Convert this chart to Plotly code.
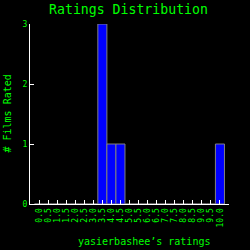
import plotly.graph_objects as go

ratings = [0.0, 0.5, 1.0, 1.5, 2.0, 2.5, 3.0, 3.5, 4.0, 4.5, 5.0,
           5.5, 6.0, 6.5, 7.0, 7.5, 8.0, 8.5, 9.0, 9.5, 10.0]
counts = [0, 0, 0, 0, 0, 0, 0, 3, 1, 1, 0,
          0, 0, 0, 0, 0, 0, 0, 0, 0, 1]
tick_labels = ["%.1f" % r for r in ratings]
y_ticks = [0, 1, 2, 3]

GREEN = "#00ff00"
FONT = "DejaVu Sans Mono"

fig = go.Figure(go.Bar(
    x=ratings, y=counts, width=0.5,
    marker=dict(color="#0000ff", line=dict(color="#808080", width=1)),
))

fig.update_layout(
    width=250, height=250,
    margin=dict(l=30, r=21, t=24, b=46),
    paper_bgcolor="black", plot_bgcolor="black",
    showlegend=False,
    font=dict(family=FONT, color=GREEN),
    title=dict(text="Ratings Distribution", x=128.5 / 250, xanchor="center",
               y=1 - 9 / 250, yanchor="middle", yref="container",
               font=dict(family=FONT, size=13.2, color=GREEN)),
    xaxis=dict(range=[-0.5, 10.5], tickvals=ratings, ticktext=tick_labels,
               tickangle=-90, ticks="inside", ticklen=4, tickcolor="white",
               showline=True, linecolor="white", linewidth=1, showgrid=False,
               zeroline=False, tickfont=dict(family=FONT, size=8, color=GREEN)),
    yaxis=dict(range=[0, 3], tickvals=y_ticks, ticks="inside", ticklen=4,
               tickcolor="white", showline=True, linecolor="white", linewidth=1,
               showgrid=False, zeroline=False,
               tickfont=dict(family=FONT, size=8, color=GREEN)),
    annotations=[
        dict(text="yasierbashee\u2019s ratings", xref="paper", yref="paper",
             x=(144 - 30) / 199, y=-37 / 180, xanchor="center", yanchor="middle",
             showarrow=False, font=dict(family=FONT, size=10, color=GREEN)),
        dict(text="# Films Rated", xref="paper", yref="paper",
             x=-23.5 / 199, y=0.5, xanchor="center", yanchor="middle",
             textangle=-90, showarrow=False,
             font=dict(family=FONT, size=10, color=GREEN)),
    ],
)

fig.write_html("out.html")
